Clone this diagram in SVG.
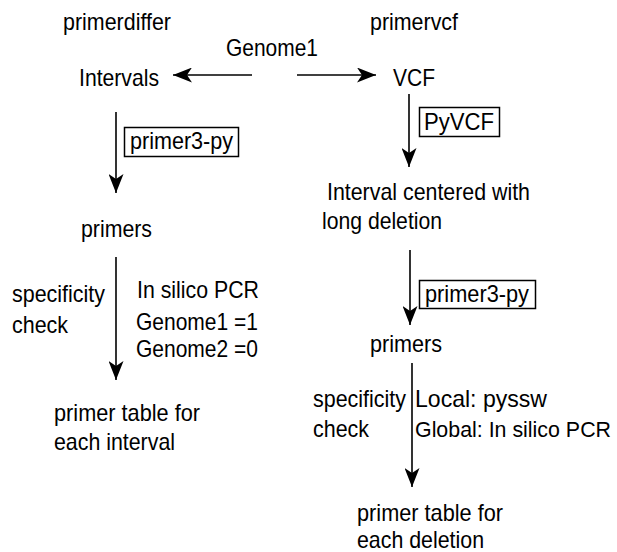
<svg xmlns="http://www.w3.org/2000/svg" width="617" height="552" viewBox="0 0 617 552">
<style>
text{font-family:"Liberation Sans",Arial,sans-serif;font-size:24px;fill:#000}
.c{stroke:#000;stroke-width:1.6;fill:none}
.b{stroke:#000;stroke-width:1.5;fill:none}
</style>
<defs>
<marker id="ah" markerUnits="userSpaceOnUse" viewBox="0 0 19 15" markerWidth="19" markerHeight="15" refX="19" refY="7.5" orient="auto">
<path d="M0,0 L19,7.5 L0,15 L5,7.5 z" fill="#000"/>
</marker>
</defs>
<rect width="617" height="552" fill="#fff"/>
<g id="labels">
<text x="63" y="30" textLength="108" lengthAdjust="spacingAndGlyphs">primerdiffer</text>
<text x="370" y="30" textLength="88" lengthAdjust="spacingAndGlyphs">primervcf</text>
</g>
<g id="genome1"><text x="226" y="56" textLength="92" lengthAdjust="spacingAndGlyphs">Genome1</text></g>
<g id="intervals"><text x="79" y="86" textLength="80" lengthAdjust="spacingAndGlyphs">Intervals</text></g>
<g id="vcf"><text x="393" y="86" textLength="42" lengthAdjust="spacingAndGlyphs">VCF</text></g>
<g id="primer3py-left"><rect class="b" x="124.5" y="127.5" width="114" height="29"/><text x="130" y="149" textLength="103" lengthAdjust="spacingAndGlyphs">primer3-py</text></g>
<g id="pyvcf"><rect class="b" x="419.5" y="107.5" width="80" height="29"/><text x="424" y="130" textLength="70" lengthAdjust="spacingAndGlyphs">PyVCF</text></g>
<g id="interval-centered"><text x="327" y="200" textLength="203" lengthAdjust="spacingAndGlyphs">Interval centered with</text><text x="322" y="229" textLength="120" lengthAdjust="spacingAndGlyphs">long deletion</text></g>
<g id="primers-left"><text x="81" y="237" textLength="71" lengthAdjust="spacingAndGlyphs">primers</text></g>
<g id="check-left"><text x="12" y="302" textLength="93" lengthAdjust="spacingAndGlyphs">specificity</text><text x="12" y="333" textLength="56" lengthAdjust="spacingAndGlyphs">check</text></g>
<g id="pcr-left"><text x="137" y="298" textLength="122" lengthAdjust="spacingAndGlyphs">In silico PCR</text><text x="136" y="330" textLength="122" lengthAdjust="spacingAndGlyphs">Genome1 =1</text><text x="136" y="357" textLength="122" lengthAdjust="spacingAndGlyphs">Genome2 =0</text></g>
<g id="table-left"><text x="54" y="421" textLength="146" lengthAdjust="spacingAndGlyphs">primer table for</text><text x="54" y="450" textLength="121" lengthAdjust="spacingAndGlyphs">each interval</text></g>
<g id="primer3py-right"><rect class="b" x="419.5" y="280.5" width="116" height="28"/><text x="425" y="302" textLength="104" lengthAdjust="spacingAndGlyphs">primer3-py</text></g>
<g id="primers-right"><text x="370" y="352" textLength="72" lengthAdjust="spacingAndGlyphs">primers</text></g>
<g id="check-right"><text x="313" y="407" textLength="93" lengthAdjust="spacingAndGlyphs">specificity</text><text x="313" y="437" textLength="56" lengthAdjust="spacingAndGlyphs">check</text></g>
<g id="methods-right"><text x="415" y="407" textLength="132" lengthAdjust="spacingAndGlyphs">Local: pyssw</text><text x="415" y="437" style="font-size:21.5px" textLength="196" lengthAdjust="spacingAndGlyphs">Global: In silico PCR</text></g>
<g id="table-right"><text x="357" y="521" textLength="146" lengthAdjust="spacingAndGlyphs">primer table for</text><text x="357" y="548" textLength="127" lengthAdjust="spacingAndGlyphs">each deletion</text></g>
<g id="connectors">
<line class="c" x1="252" y1="75" x2="173" y2="75" marker-end="url(#ah)"/>
<line class="c" x1="297" y1="75" x2="376" y2="75" marker-end="url(#ah)"/>
<line class="c" x1="116" y1="112" x2="116" y2="193" marker-end="url(#ah)"/>
<line class="c" x1="116" y1="257" x2="116" y2="380" marker-end="url(#ah)"/>
<line class="c" x1="409" y1="94" x2="409" y2="167" marker-end="url(#ah)"/>
<line class="c" x1="410" y1="250" x2="410" y2="325" marker-end="url(#ah)"/>
<line class="c" x1="412" y1="363" x2="412" y2="487" marker-end="url(#ah)"/>
</g>
</svg>
